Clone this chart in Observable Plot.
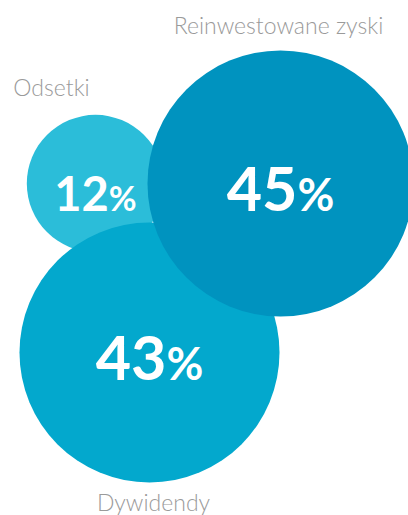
<!DOCTYPE html>
<html>
<head>
<meta charset="utf-8">
<script src="https://cdn.jsdelivr.net/npm/d3@7"></script>
<script src="https://cdn.jsdelivr.net/npm/@observablehq/plot@0.6"></script>
<style>
  html, body { margin: 0; padding: 0; background: #ffffff; }
  #chart svg { display: block; }
</style>
</head>
<body>
<div id="chart"></div>
<script>
// Data (drawing order: back to front)
const categories = ["Odsetki", "Dywidendy", "Reinwestowane zyski"];
const values = [12, 43, 45];

// Layout (bubble centres, label anchors) and styles
const bubbleX = [95, 149, 280];
const bubbleY = [183, 352, 183];
const labelX = [51, 153, 278];
const labelY = [95, 510, 33];
const numberSize = [47, 61, 61];
const colors = ["#2bbdd9", "#03a8cd", "#0093bf"];

const W = 408, H = 515;
const rows = categories.map((c, i) => ({
  category: c, value: values[i],
  bx: bubbleX[i], by: bubbleY[i], lx: labelX[i], ly: labelY[i],
  size: numberSize[i], color: colors[i]
}));

function pctRender(index, scales, vals, dims, ctx, next) {
  const g = next(index, scales, vals, dims, ctx);
  d3.select(g).selectAll("text").each(function(_, k) {
    const row = rows[index[k]];
    const t = this.textContent;
    this.textContent = "";
    const s = d3.select(this);
    s.append("tspan").attr("font-size", row.size).text(t);
    s.append("tspan").attr("font-size", Math.round(row.size * 0.73)).text("%");
  });
  return g;
}

const chart = Plot.plot({
  width: W,
  height: H,
  margin: 0,
  x: { domain: [0, W], range: [0, W], axis: null },
  y: { domain: [0, H], range: [0, H], axis: null },
  r: { type: "sqrt", domain: [0, 45], range: [0, 133] },
  style: { fontFamily: "Lato, 'Open Sans', sans-serif", background: "#ffffff" },
  marks: [
    Plot.dot(rows, { x: "bx", y: "by", r: "value", fill: "color", stroke: null, fillOpacity: 1, sort: null }),
    Plot.text(rows, {
      x: "bx", y: "by", text: d => String(d.value),
      fill: "#ffffff", fontWeight: "bold", lineAnchor: "bottom", dy: 27,
      textAnchor: "middle", render: pctRender
    }),
    Plot.text(rows, {
      x: "lx", y: "ly", text: "category", fill: "#9a9a9a",
      fontSize: 23, fontWeight: 300, lineAnchor: "bottom", textAnchor: "middle"
    })
  ]
});
document.getElementById("chart").appendChild(chart);
</script>
</body>
</html>
